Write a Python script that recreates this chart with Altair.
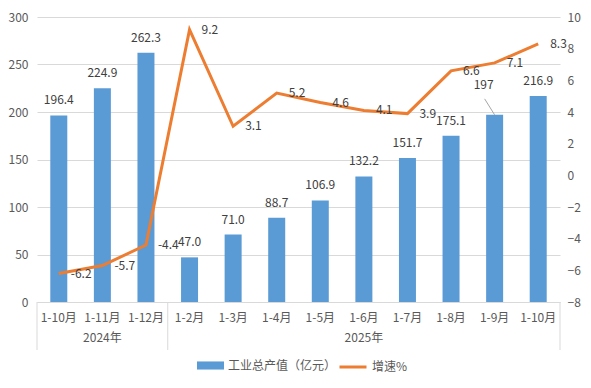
import altair as alt
import pandas as pd

# ---- data ----
categories = ["1-10月", "1-11月", "1-12月", "1-2月", "1-3月", "1-4月",
              "1-5月", "1-6月", "1-7月", "1-8月", "1-9月", "1-10月"]
years = ["2024年"] * 3 + ["2025年"] * 9
output_value = [196.4, 224.9, 262.3, 47.0, 71.0, 88.7, 106.9, 132.2, 151.7, 175.1, 197, 216.9]
output_text = ["196.4", "224.9", "262.3", "47.0", "71.0", "88.7", "106.9", "132.2",
               "151.7", "175.1", "197", "216.9"]
growth_value = [-6.2, -5.7, -4.4, 9.2, 3.1, 5.2, 4.6, 4.1, 3.9, 6.6, 7.1, 8.3]
left_ticks = [0, 50, 100, 150, 200, 250, 300]
right_ticks = [-8, -6, -4, -2, 0, 2, 4, 6, 8, 10]
bar_series = "工业总产值（亿元）"
line_series = "增速%"

BLUE = "#5B9BD5"
ORANGE = "#ED7D31"
GRID = "#d9d9d9"
AXIS_TXT = "#595959"
LABEL_TXT = "#404040"
FONT = "Noto Sans CJK SC"

keys = [y + "|" + c for y, c in zip(years, categories)]
df = pd.DataFrame({
    "key": keys, "cat": categories, "year": years,
    "output": output_value, "otext": output_text, "growth": growth_value,
    "gtext": [f"{v:.1f}" for v in growth_value],
})

# group helpers (year label at middle category, dividers at group edges)
year_rows = []
divider_rows = []
for y in dict.fromkeys(years):
    ks = [k for k, yy in zip(keys, years) if yy == y]
    year_rows.append({"key": ks[(len(ks) - 1) // 2], "year": y})
    divider_rows.append({"key": ks[0]})
year_df = pd.DataFrame(year_rows)
div_df = pd.DataFrame(divider_rows)
last_df = pd.DataFrame({"key": [keys[-1]]})

H = 285
TOP = 9

x_axis = alt.Axis(labelExpr="split(datum.label,'|')[1]", labelAngle=0, ticks=False,
                  domainColor=GRID, labelColor=AXIS_TXT, labelFontSize=12,
                  labelPadding=10, title=None, grid=False, labelFont=FONT)
x_scale = alt.Scale(domain=keys, paddingInner=0, paddingOuter=0)
X = alt.X("key:N", sort=keys, scale=x_scale, axis=x_axis)

base = alt.Chart(df)

bar_legend = alt.Legend(
    orient="none", legendX=160, legendY=335, title=None,
    labelFontSize=12, labelColor=AXIS_TXT, labelFont=FONT, symbolSize=729,
    labelOffset=4, padding=0, symbolType="M-1,-0.3H1V0.3H-1Z", symbolStrokeWidth=0,
)
line_legend = alt.Legend(
    orient="none", legendX=301, legendY=335, title=None,
    labelFontSize=12, labelColor=AXIS_TXT, labelFont=FONT, symbolSize=729,
    labelOffset=4, padding=0, symbolType="stroke", symbolStrokeWidth=3,
)

Y_left = alt.Y("output:Q", scale=alt.Scale(domain=[0, 300], nice=False),
               axis=alt.Axis(values=left_ticks, grid=True, gridColor=GRID, domain=False,
                             ticks=False, labelColor=AXIS_TXT, labelFontSize=12,
                             labelPadding=9, title=None, labelFont=FONT))

bars = base.transform_calculate(series="'" + bar_series + "'").mark_bar(size=17).encode(
    x=X, y=Y_left,
    color=alt.Color("series:N", scale=alt.Scale(domain=[bar_series], range=[BLUE]),
                    legend=bar_legend),
)
bar_text = base.transform_filter("datum.otext != '197'").mark_text(
    dy=-15, baseline="middle", fontSize=12, color=LABEL_TXT, font=FONT
).encode(x=X, y=Y_left, text="otext:N")
bar_text_moved = base.transform_filter("datum.otext == '197'").mark_text(
    dx=-11, dy=-30, baseline="middle", fontSize=12, color=LABEL_TXT, font=FONT
).encode(x=X, y=Y_left, text="otext:N")
leader = base.transform_filter("datum.otext == '197'").mark_rule(
    color="#a6a6a6", strokeWidth=1, x2Offset=-10, y2Offset=-16
).encode(x=X, x2=alt.X2("key:N"), y=Y_left, y2=alt.Y2("output:Q"))

left_group = alt.layer(bars, bar_text, bar_text_moved, leader)

Y_right = alt.Y("growth:Q", scale=alt.Scale(domain=[-8, 10], nice=False),
                axis=alt.Axis(orient="right", values=right_ticks, grid=False, domain=False,
                              ticks=False, labelColor=AXIS_TXT, labelFontSize=12,
                              labelPadding=7, title=None, labelFont=FONT))
line = base.transform_calculate(series="'" + line_series + "'").mark_line(strokeWidth=3).encode(
    x=X, y=Y_right,
    stroke=alt.Stroke("series:N", scale=alt.Scale(domain=[line_series], range=[ORANGE]),
                      legend=line_legend),
)
line_text = base.mark_text(
    align="left", dx=12, baseline="middle", fontSize=12, color=LABEL_TXT, font=FONT
).encode(x=X, y=Y_right, text="gtext:N")

right_group = alt.layer(line, line_text)

year_text = alt.Chart(year_df).mark_text(
    baseline="middle", fontSize=12, color=AXIS_TXT, font=FONT
).encode(x=X, y=alt.value(H + 36), text="year:N")
dividers = alt.Chart(div_df).mark_rule(color=GRID, strokeWidth=1).encode(
    x=alt.X("key:N", sort=keys, scale=x_scale, axis=x_axis, bandPosition=0),
    y=alt.value(H), y2=alt.value(H + 48))
divider_end = alt.Chart(last_df).mark_rule(color=GRID, strokeWidth=1).encode(
    x=alt.X("key:N", sort=keys, scale=x_scale, axis=x_axis, bandPosition=1),
    y=alt.value(H), y2=alt.value(H + 48))

chart = alt.layer(left_group, right_group, year_text, dividers, divider_end).resolve_scale(
    y="independent"
).resolve_legend(color="independent", stroke="independent").properties(
    width=523, height=H,
    padding={"left": 29, "top": TOP, "right": 23, "bottom": 78},
    autosize=alt.AutoSizeParams(type="none"),
    background="white",
).configure(font=FONT).configure_view(stroke=None)

chart.save("out.html", embed_options={"renderer": "svg", "actions": False})
